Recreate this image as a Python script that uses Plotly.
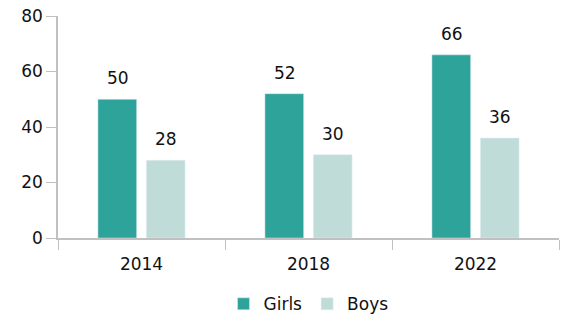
import plotly.graph_objects as go

years = ["2014", "2018", "2022"]
girls = [50, 52, 66]
boys = [28, 30, 36]

font_family = "DejaVu Sans, Noto Sans, sans-serif"
bar_offset_px = 24  # half of one bar slot within a year group

fig = go.Figure()
fig.add_trace(go.Bar(name="Girls", x=years, y=girls, marker_color="#2da39a"))
fig.add_trace(go.Bar(name="Boys", x=years, y=boys, marker_color="#bfdcd8"))

# value labels floating above each bar (x given as category index)
for series, shift in ((girls, -bar_offset_px), (boys, bar_offset_px)):
    for idx, v in enumerate(series):
        fig.add_annotation(
            x=idx, y=v, text=str(v), showarrow=False,
            xshift=shift, yshift=9, yanchor="bottom",
            font=dict(size=17, color="#111111"),
        )

fig.update_layout(
    width=568, height=322,
    margin=dict(l=58, r=9, t=16, b=84, autoexpand=False),
    paper_bgcolor="white", plot_bgcolor="white",
    font=dict(family=font_family, size=16, color="#111111"),
    barmode="group", bargap=0.42, bargroupgap=0.2,
    showlegend=True,
    legend=dict(orientation="h", x=0.5, xanchor="center",
                yref="container", y=0.055, yanchor="middle",
                font=dict(size=17), traceorder="normal"),
)
fig.update_xaxes(
    type="category", range=[-0.5, len(years) - 0.5],
    showline=True, linecolor="#c0c0c0", linewidth=1.5,
    ticks="outside", tickson="boundaries", ticklen=10, tickcolor="#c0c0c0",
    tickfont=dict(size=17), showgrid=False, ticklabelstandoff=10,
)
fig.update_yaxes(
    range=[0, 80], dtick=20, showline=True, linecolor="#c0c0c0", linewidth=1.5,
    ticks="outside", ticklen=10, tickcolor="#c0c0c0", showgrid=False,
    zeroline=False, tickfont=dict(size=17),
)

fig.write_html("out.html")
